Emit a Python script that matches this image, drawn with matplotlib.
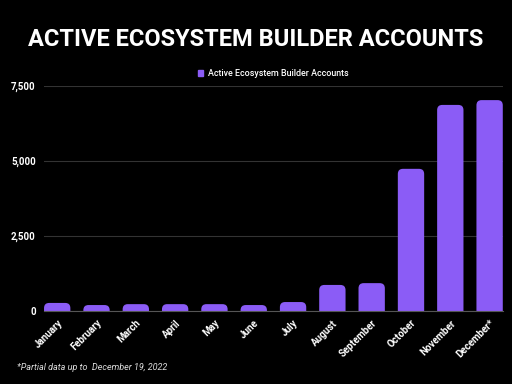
import numpy as np
import matplotlib
matplotlib.use("Agg")
import matplotlib.pyplot as plt
from matplotlib.patches import FancyBboxPatch, Patch

months = ['January', 'February', 'March', 'April', 'May', 'June', 'July',
          'August', 'September', 'October', 'November', 'December*']
accounts = [270, 200, 230, 230, 230, 200, 300, 870, 930, 4740, 6870, 7030]
yticks = [0, 2500, 5000, 7500]

purple = '#8b5cf6'

fig = plt.figure(figsize=(5.12, 3.84), dpi=100, facecolor='black')
ax = fig.add_axes([0.086, 0.19, 0.896, 0.586], facecolor='black')

x = np.arange(len(months))
bars = ax.bar(x, accounts, width=0.67, color=purple)

# swap plain bars for rounded-top ones (bottom corners hidden below zero)
aspect = (7500 / 225) / (1 / 39.4)
for b in bars:
    bx, by = b.get_xy()
    w, h = b.get_width(), b.get_height()
    p = FancyBboxPatch((bx, by - 300), w, h + 300,
                       boxstyle='round,pad=0,rounding_size=0.13',
                       mutation_aspect=aspect, facecolor=purple,
                       edgecolor='none', clip_on=True)
    ax.add_patch(p)
    b.set_visible(False)

ax.set_xlim(-0.335, len(months) - 1 + 0.335)
ax.set_ylim(0, 7500)
ax.set_yticks(yticks)
ax.set_yticklabels([f'{v:,}' for v in yticks], color='white',
                   fontsize=7, fontweight='bold', family='Roboto')
ax.set_xticks(x)
ax.set_xticklabels(months, rotation=45, ha='right', rotation_mode='anchor',
                   color='white', fontsize=7, fontweight='bold', family='Roboto')
ax.tick_params(length=0, pad=6)
ax.tick_params(axis='x', pad=5)
ax.grid(axis='y', color='#333333', linewidth=0.8)
ax.set_axisbelow(True)
for s in ['top', 'right', 'left']:
    ax.spines[s].set_visible(False)
ax.spines['bottom'].set_color('#555555')

leg = ax.legend(handles=[Patch(color=purple, label='Active Ecosystem Builder Accounts')],
                loc='lower center', bbox_to_anchor=(0.5, 1.0), frameon=False,
                handlelength=0.55, handleheight=0.55, handletextpad=0.5,
                prop={'family': 'Roboto', 'size': 6.4, 'weight': 'medium'})
for t in leg.get_texts():
    t.set_color('white')

fig.text(0.5, 0.897, 'ACTIVE ECOSYSTEM BUILDER ACCOUNTS', ha='center', va='center',
         color='white', fontsize=17, fontweight='bold', family='Roboto')
fig.text(0.033, 0.043, '*Partial data up to  December 19, 2022', ha='left', va='center',
         color='#dddddd', fontsize=6.5, style='italic', family='Roboto')

fig.savefig('out.png', dpi=100, facecolor='black')
